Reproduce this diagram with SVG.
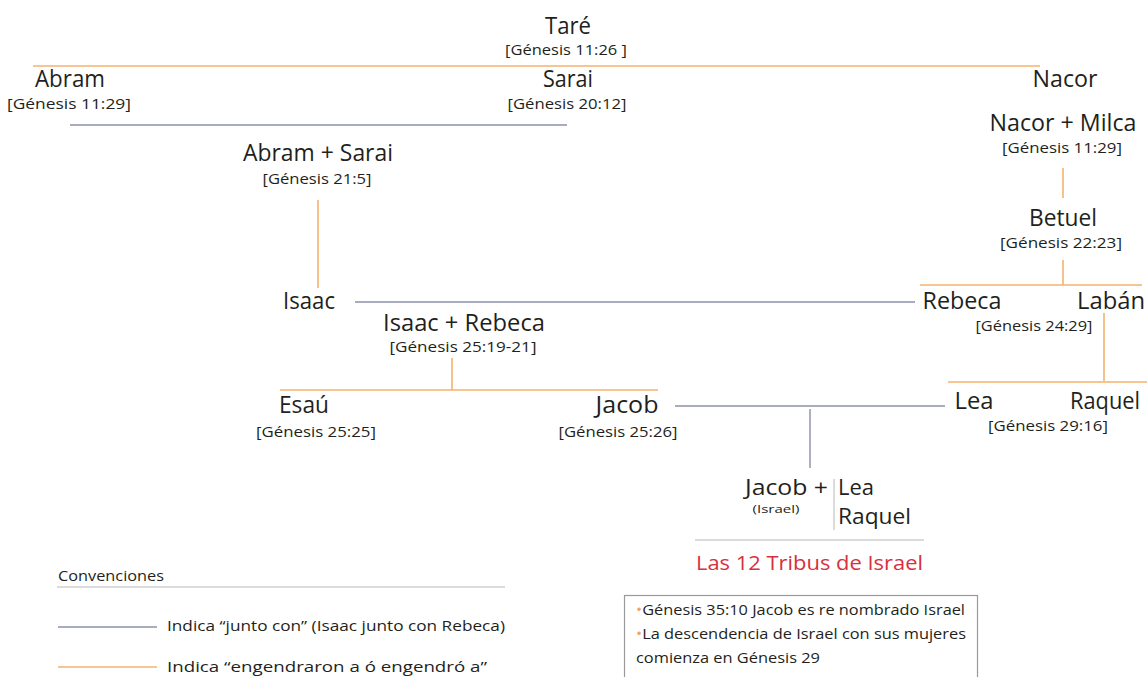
<svg xmlns="http://www.w3.org/2000/svg" width="1147" height="677" viewBox="0 0 1147 677">
<style>
text{font-family:"Open Sans","Noto Sans",sans-serif;fill:#231f20}
.n{font-size:23px;text-anchor:middle}
.r{font-size:14.5px;text-anchor:middle}
.o{stroke:#f4b26e;stroke-width:1.6;fill:none}
.b{stroke:#8c8fa8;stroke-width:1.4;fill:none}
.g{stroke:#b8b8b8;stroke-width:1;fill:none}
.l{font-size:14px}
.bx{font-size:15px}
.dot{fill:#f4a460}
</style>
<rect width="1147" height="677" fill="#fff"/>
<g id="connectors">
<line class="o" x1="33" y1="66" x2="1040" y2="66"/>
<line class="b" x1="70" y1="125" x2="567" y2="125"/>
<line class="o" x1="318" y1="200" x2="318" y2="288"/>
<line class="o" x1="1063" y1="168" x2="1063" y2="198"/>
<line class="o" x1="1063" y1="260" x2="1063" y2="285"/>
<line class="o" x1="920" y1="285" x2="1142" y2="285"/>
<line class="b" x1="355" y1="302" x2="915" y2="302"/>
<line class="o" x1="1104" y1="313" x2="1104" y2="381"/>
<line class="o" x1="948" y1="382" x2="1147" y2="382"/>
<line class="o" x1="452" y1="358" x2="452" y2="390"/>
<line class="o" x1="280" y1="390" x2="658" y2="390"/>
<line class="b" x1="675" y1="406" x2="945" y2="406"/>
<line class="b" x1="810" y1="409" x2="810" y2="468"/>
<line class="g" x1="834" y1="479" x2="834" y2="530"/>
<line class="g" x1="695" y1="540" x2="924" y2="540"/>
</g>
<g id="tare"><text class="n" x="568" y="34" textLength="46" lengthAdjust="spacingAndGlyphs">Taré</text><text class="r" x="566" y="55" textLength="122" lengthAdjust="spacingAndGlyphs">[Génesis 11:26 ]</text></g>
<g id="abram"><text class="n" x="70" y="87" textLength="70" lengthAdjust="spacingAndGlyphs">Abram</text><text class="r" x="69" y="109" textLength="124" lengthAdjust="spacingAndGlyphs">[Génesis 11:29]</text></g>
<g id="sarai"><text class="n" x="568" y="87" textLength="50" lengthAdjust="spacingAndGlyphs">Sarai</text><text class="r" x="567" y="109" textLength="119" lengthAdjust="spacingAndGlyphs">[Génesis 20:12]</text></g>
<g id="nacor"><text class="n" x="1065" y="87" textLength="65" lengthAdjust="spacingAndGlyphs">Nacor</text></g>
<g id="abram-sarai"><text class="n" x="318" y="161" textLength="150" lengthAdjust="spacingAndGlyphs">Abram + Sarai</text><text class="r" x="317" y="184" textLength="109" lengthAdjust="spacingAndGlyphs">[Génesis 21:5]</text></g>
<g id="nacor-milca"><text class="n" x="1063" y="131" textLength="147" lengthAdjust="spacingAndGlyphs">Nacor + Milca</text><text class="r" x="1062" y="153" textLength="120" lengthAdjust="spacingAndGlyphs">[Génesis 11:29]</text></g>
<g id="betuel"><text class="n" x="1063" y="226" textLength="68" lengthAdjust="spacingAndGlyphs">Betuel</text><text class="r" x="1061" y="248" textLength="122" lengthAdjust="spacingAndGlyphs">[Génesis 22:23]</text></g>
<g id="rebeca"><text class="n" x="962" y="309" textLength="79" lengthAdjust="spacingAndGlyphs">Rebeca</text></g>
<g id="laban"><text class="n" x="1111" y="309" textLength="68" lengthAdjust="spacingAndGlyphs">Labán</text><text class="r" x="1034" y="331" textLength="117" lengthAdjust="spacingAndGlyphs">[Génesis 24:29]</text></g>
<g id="isaac"><text class="n" x="309" y="309" textLength="52" lengthAdjust="spacingAndGlyphs">Isaac</text></g>
<g id="isaac-rebeca"><text class="n" x="464" y="331" textLength="162" lengthAdjust="spacingAndGlyphs">Isaac +  Rebeca</text><text class="r" x="463" y="352" textLength="147" lengthAdjust="spacingAndGlyphs">[Génesis 25:19-21]</text></g>
<g id="esau"><text class="n" x="304" y="413" textLength="50" lengthAdjust="spacingAndGlyphs">Esaú</text><text class="r" x="316" y="437" textLength="120" lengthAdjust="spacingAndGlyphs">[Génesis 25:25]</text></g>
<g id="jacob"><text class="n" x="627" y="413" textLength="63" lengthAdjust="spacingAndGlyphs">Jacob</text><text class="r" x="618" y="437" textLength="119" lengthAdjust="spacingAndGlyphs">[Génesis 25:26]</text></g>
<g id="lea"><text class="n" x="974" y="409" textLength="39" lengthAdjust="spacingAndGlyphs">Lea</text></g>
<g id="raquel"><text class="n" x="1105" y="409" textLength="70" lengthAdjust="spacingAndGlyphs">Raquel</text><text class="r" x="1048" y="431" textLength="120" lengthAdjust="spacingAndGlyphs">[Génesis 29:16]</text></g>
<g id="jacob-israel">
<text x="745" y="495" style="font-size:22px" textLength="83" lengthAdjust="spacingAndGlyphs">Jacob +</text>
<text x="776" y="513" style="font-size:11px;text-anchor:middle" textLength="47" lengthAdjust="spacingAndGlyphs">(Israel)</text>
<text x="838" y="495" style="font-size:22px" textLength="36" lengthAdjust="spacingAndGlyphs">Lea</text>
<text x="838" y="524" style="font-size:22px" textLength="73" lengthAdjust="spacingAndGlyphs">Raquel</text>
</g>
<g id="tribus"><text x="696" y="570" style="font-size:20px;fill:#d8303e" textLength="227" lengthAdjust="spacingAndGlyphs">Las 12 Tribus de Israel</text></g>
<g id="notes">
<rect x="624.5" y="595.5" width="353" height="90" fill="#fff" stroke="#9a9a9a" stroke-width="1.2"/>
<text class="bx" x="636" y="615" textLength="329" lengthAdjust="spacingAndGlyphs"><tspan style="fill:#f4a460">•</tspan>Génesis 35:10 Jacob es re nombrado Israel</text>
<text class="bx" x="636" y="639" textLength="330" lengthAdjust="spacingAndGlyphs"><tspan style="fill:#f4a460">•</tspan>La descendencia de Israel con sus mujeres</text>
<text class="bx" x="636" y="663" textLength="184" lengthAdjust="spacingAndGlyphs">comienza en Génesis 29</text>
</g>
<g id="legend">
<text class="l" x="58" y="581" textLength="106" lengthAdjust="spacingAndGlyphs">Convenciones</text>
<line class="g" x1="57" y1="587" x2="505" y2="587"/>
<line class="b" x1="58" y1="627" x2="157" y2="627"/>
<text class="l" x="167" y="631" textLength="338" lengthAdjust="spacingAndGlyphs">Indica “junto con” (Isaac junto con Rebeca)</text>
<line class="o" x1="58" y1="667" x2="157" y2="667"/>
<text class="l" x="167" y="672" textLength="320" lengthAdjust="spacingAndGlyphs">Indica “engendraron a ó engendró a”</text>
</g>
</svg>
